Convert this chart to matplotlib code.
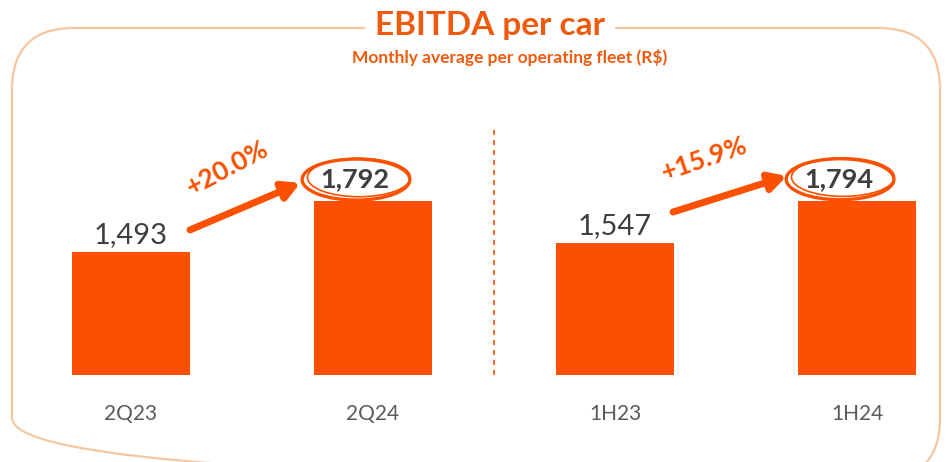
import matplotlib.pyplot as plt
from matplotlib.patches import Ellipse, FancyBboxPatch

plt.rcParams['font.family'] = ['Lato', 'DejaVu Sans']

categories = ['2Q23', '2Q24', '1H23', '1H24']
values = [1493, 1792, 1547, 1794]
growth = ['+20.0%', '+15.9%']
title = 'EBITDA per car'
subtitle = 'Monthly average per operating fleet (R$)'

ORANGE = '#FA5000'
TEXT_ORANGE = '#EE5A0E'
BORDER = '#F6C6A0'
DARK = '#3F3F3F'
GREY = '#5A5A5A'


def main():
    fig = plt.figure(figsize=(9.48, 4.62), dpi=100)

    # decoration layer in pixel coords (rounded frame + title)
    deco = fig.add_axes([0, 0, 1, 1])
    deco.set_xlim(0, 948)
    deco.set_ylim(462, 0)
    deco.axis('off')
    frame = FancyBboxPatch((12, 28), 928, 452, boxstyle='round,pad=0,rounding_size=62',
                           fill=False, edgecolor=BORDER, linewidth=1.6)
    deco.add_patch(frame)
    deco.text(490, 26, title, ha='center', va='center', fontsize=24, fontweight='bold',
              color=TEXT_ORANGE,
              bbox=dict(boxstyle='square,pad=0.3', facecolor='white', edgecolor='none'))
    deco.text(510, 57, subtitle, ha='center', va='center', fontsize=12.5,
              fontweight='bold', color=TEXT_ORANGE)

    ax = fig.add_axes([0, 0.188, 1, 0.596])
    x = list(range(len(categories)))
    ax.bar(x, values, width=0.49, color=ORANGE, zorder=2)
    ax.set_xlim(-0.541, 3.376)
    ax.set_ylim(772, 2384)
    ax.patch.set_alpha(0)
    for s in ax.spines.values():
        s.set_visible(False)
    ax.set_yticks([])
    ax.set_xticks(x)
    ax.set_xticklabels(categories, fontsize=15, color=GREY)
    ax.tick_params(axis='x', length=0, pad=21)

    # plain labels on the "before" bars
    for i in (0, 2):
        ax.annotate(f'{values[i]:,}', (x[i], values[i]), xytext=(0, 3),
                    textcoords='offset points', ha='center', va='bottom',
                    fontsize=21, color=DARK)

    # circled labels on the "after" bars
    for i in (1, 3):
        cx, cy = x[i] - 0.07, values[i] + 125
        ax.text(cx - 0.005, cy, f'{values[i]:,}', ha='center', va='center',
                fontsize=19.5, fontweight='bold', color=DARK, zorder=4)
        ax.add_patch(Ellipse((cx, cy), 0.445, 240, fill=False,
                             edgecolor=ORANGE, linewidth=2.4, zorder=3))
        ax.add_patch(Ellipse((cx + 0.012, cy + 12), 0.425, 225, fill=False,
                             edgecolor=ORANGE, linewidth=1.2, zorder=3))

    # growth arrows
    arrows = [((0.244, 1622), (0.70, 1897)), ((2.24, 1727), (2.71, 1938))]
    text_pos = [(0.40, 1985, 28), (2.37, 2040, 19)]
    for (tail, head), (tx, ty, rot), g in zip(arrows, text_pos, growth):
        ax.annotate('', xy=head, xytext=tail,
                    arrowprops=dict(arrowstyle='-|>,head_width=0.55,head_length=1.0',
                                    color=ORANGE, linewidth=5, shrinkA=0, shrinkB=0))
        ax.text(tx, ty, g, ha='center', va='center', rotation=rot, fontsize=19,
                fontweight='bold', color=ORANGE)

    # separator between the quarter and half-year groups
    ax.vlines(1.5, 772, 2208, colors=ORANGE, linestyles=(0, (3, 3)), linewidth=1.2)

    fig.savefig('out.png', dpi=100)


if __name__ == '__main__':
    main()
